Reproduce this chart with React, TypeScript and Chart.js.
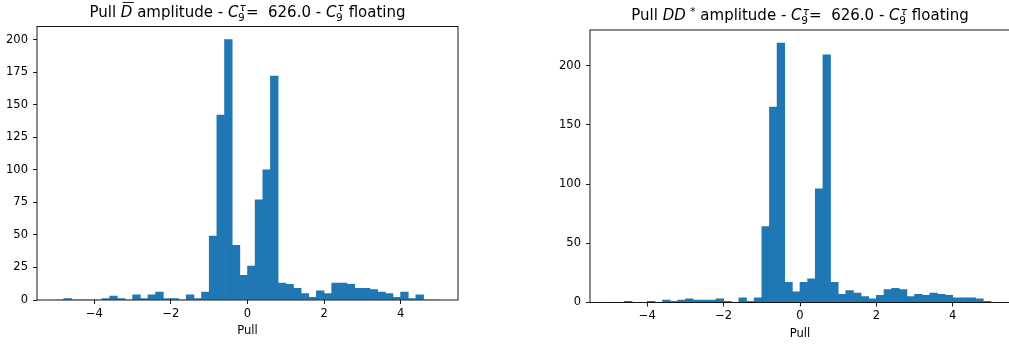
import { useEffect, useRef } from 'react';
import { Chart, registerables } from 'chart.js';

Chart.register(...registerables);

// Histogram binning: 50 bins of width 0.2 covering [-5, 5]
const BIN_MIN = -5;
const BIN_WIDTH = 0.2;

// Counts per bin, pull of the D-bar amplitude
const dbarCounts = [
  0, 1, 0, 0, 0, 0, 1, 3, 1, 0,
  4, 1, 4, 6, 1, 1, 0, 4, 1, 6,
  49, 142, 200, 42, 19, 26, 77, 100, 172, 13,
  12, 9, 5, 2, 7, 5, 13, 13, 12, 9,
  9, 8, 6, 5, 2, 6, 1, 4, 0, 0,
];

// Counts per bin, pull of the DD* amplitude
const ddstarCounts = [
  0, 0, 1, 0, 0, 1, 0, 2, 1, 2,
  3, 2, 2, 2, 3, 1, 0, 4, 1, 4,
  64, 165, 219, 17, 9, 17, 20, 96, 209, 17,
  7, 10, 8, 5, 3, 6, 11, 12, 11, 5,
  7, 6, 8, 7, 6, 4, 4, 4, 3, 1,
];

const X_TICKS = [-4, -2, 0, 2, 4];
const Y_TICKS_LEFT = [0, 25, 50, 75, 100, 125, 150, 175, 200];
const Y_TICKS_RIGHT = [0, 50, 100, 150, 200];

const FONT = '"DejaVu Sans", "Liberation Sans", sans-serif';
const BAR_COLOR = '#1f77b4';
const TEXT_COLOR = '#000000';
const TITLE_SIZE = 15;

type Seg = { text: string; italic?: boolean; overline?: boolean; sub?: string; sup?: string; supItalic?: boolean };

const TAU = '\u03c4';
const C9TAU: Seg = { text: 'C', italic: true, sub: '9', sup: TAU, supItalic: true };

const titleLeft: Seg[] = [
  { text: 'Pull ' },
  { text: 'D', italic: true, overline: true },
  { text: ' amplitude - ' },
  C9TAU,
  { text: '=  626.0 - ' },
  C9TAU,
  { text: ' floating' },
];

const titleRight: Seg[] = [
  { text: 'Pull ' },
  { text: 'DD', italic: true, sup: ' *' },
  { text: ' amplitude - ' },
  C9TAU,
  { text: '=  626.0 - ' },
  C9TAU,
  { text: ' floating' },
];

const fontStr = (italic: boolean | undefined, size: number) =>
  `${italic ? 'italic ' : ''}${size}px ${FONT}`;

// Draws a line of text made of plain, italic, overlined and sub/superscripted pieces
function drawRichText(ctx: CanvasRenderingContext2D, segs: Seg[], cx: number, baseline: number, size: number) {
  const small = size * 0.7;
  const measured = segs.map((s) => {
    ctx.font = fontStr(s.italic, size);
    const w = ctx.measureText(s.text).width;
    let sw = 0;
    if (s.sub) {
      ctx.font = fontStr(false, small);
      sw = Math.max(sw, ctx.measureText(s.sub).width);
    }
    if (s.sup) {
      ctx.font = fontStr(s.supItalic, small);
      sw = Math.max(sw, ctx.measureText(s.sup).width + size * 0.08);
    }
    return { w, sw };
  });
  const total = measured.reduce((a, m) => a + m.w + m.sw, 0);
  let x = cx - total / 2;
  ctx.save();
  ctx.fillStyle = TEXT_COLOR;
  ctx.strokeStyle = TEXT_COLOR;
  ctx.textBaseline = 'alphabetic';
  ctx.textAlign = 'left';
  segs.forEach((s, i) => {
    const { w, sw } = measured[i];
    ctx.font = fontStr(s.italic, size);
    ctx.fillText(s.text, x, baseline);
    if (s.overline) {
      const y = Math.round(baseline - size * 0.97) + 0.5;
      ctx.lineWidth = 0.9;
      ctx.beginPath();
      ctx.moveTo(x + size * 0.12, y);
      ctx.lineTo(x + w + size * 0.1, y);
      ctx.stroke();
    }
    if (s.sub) {
      ctx.font = fontStr(false, small);
      ctx.fillText(s.sub, x + w - size * 0.02, baseline + size * 0.27);
    }
    if (s.sup) {
      ctx.font = fontStr(s.supItalic, small);
      ctx.fillText(s.sup, x + w + size * 0.08, baseline - size * 0.36);
    }
    x += w + sw;
  });
  ctx.restore();
}

type PanelProps = {
  counts: number[];
  yMax: number;
  yTicks: number[];
  title: Seg[];
  yAxisWidth: number;
  padding: { left: number; top: number; right: number; bottom: number };
  width: number;
  height: number;
  left: number;
};

function HistPanel({ counts, yMax, yTicks, title, yAxisWidth, padding, width, height, left }: PanelProps) {
  const ref = useRef<HTMLCanvasElement | null>(null);

  useEffect(() => {
    if (!ref.current) return;
    const data = counts.map((c, i) => ({ x: BIN_MIN + (i + 0.5) * BIN_WIDTH, y: c }));

    const decorations = {
      id: 'decorations',
      afterDatasetsDraw(chart: Chart) {
        const { ctx, chartArea } = chart;
        const { left: l, top: t, right: r, bottom: b } = chartArea;
        ctx.save();
        ctx.strokeStyle = '#000';
        ctx.lineWidth = 0.9;
        ctx.strokeRect(l, t, r - l, b - t);
        ctx.restore();
        drawRichText(ctx, title, (l + r) / 2, t - 10, TITLE_SIZE);
      },
    };

    const tickFont = { family: FONT, size: 11.5 };
    const chart = new Chart(ref.current, {
      type: 'bar',
      data: {
        datasets: [
          {
            data,
            backgroundColor: BAR_COLOR,
            borderWidth: 0,
            barPercentage: 1,
            categoryPercentage: 1,
          },
        ],
      },
      options: {
        responsive: false,
        animation: false,
        events: [],
        layout: { padding },
        plugins: { legend: { display: false }, tooltip: { enabled: false }, title: { display: false } },
        scales: {
          x: {
            type: 'linear',
            min: -5.5,
            max: 5.5,
            offset: false,
            afterBuildTicks: (s: any) => {
              s.ticks = X_TICKS.map((v) => ({ value: v }));
            },
            afterFit: (s: any) => {
              s.height = 40;
            },
            grid: {
              display: true,
              offset: false,
              drawOnChartArea: false,
              drawTicks: true,
              tickLength: 4,
              tickWidth: 0.9,
              tickColor: '#000',
            },
            border: { display: false },
            ticks: {
              color: TEXT_COLOR,
              font: tickFont,
              padding: 3,
              maxRotation: 0,
              autoSkip: false,
              callback: (v: any) => (Number(v) < 0 ? '\u2212' + Math.abs(Number(v)) : String(v)),
            },
            title: {
              display: true,
              text: 'Pull',
              color: TEXT_COLOR,
              font: tickFont,
              padding: { top: 0, bottom: 2 },
            },
          },
          y: {
            type: 'linear',
            min: 0,
            max: yMax,
            afterBuildTicks: (s: any) => {
              s.ticks = yTicks.map((v) => ({ value: v }));
            },
            afterFit: (s: any) => {
              s.width = yAxisWidth;
            },
            grid: {
              display: true,
              offset: false,
              drawOnChartArea: false,
              drawTicks: true,
              tickLength: 4,
              tickWidth: 0.9,
              tickColor: '#000',
            },
            border: { display: false },
            ticks: { color: TEXT_COLOR, font: tickFont, padding: 5, autoSkip: false },
          },
        },
      },
      plugins: [decorations],
    });
    return () => chart.destroy();
  }, [counts, yMax, yTicks, title, yAxisWidth, padding]);

  return (
    <canvas
      ref={ref}
      width={width}
      height={height}
      style={{ position: 'absolute', left, top: 0, width, height }}
    />
  );
}

const leftPadding = { left: 0, top: 26.5, right: 47, bottom: 7 };
const rightPadding = { left: 0, top: 30, right: 1, bottom: 4.5 };

export default function App() {
  return (
    <div
      style={{
        position: 'absolute',
        left: 0,
        top: 0,
        width: 1009,
        height: 347,
        overflow: 'hidden',
        background: '#ffffff',
      }}
    >
      <HistPanel
        counts={dbarCounts}
        yMax={210}
        yTicks={Y_TICKS_LEFT}
        title={titleLeft}
        yAxisWidth={37}
        padding={leftPadding}
        width={505}
        height={347}
        left={0}
      />
      <HistPanel
        counts={ddstarCounts}
        yMax={230}
        yTicks={Y_TICKS_RIGHT}
        title={titleRight}
        yAxisWidth={85}
        padding={rightPadding}
        width={506}
        height={347}
        left={505}
      />
    </div>
  );
}
